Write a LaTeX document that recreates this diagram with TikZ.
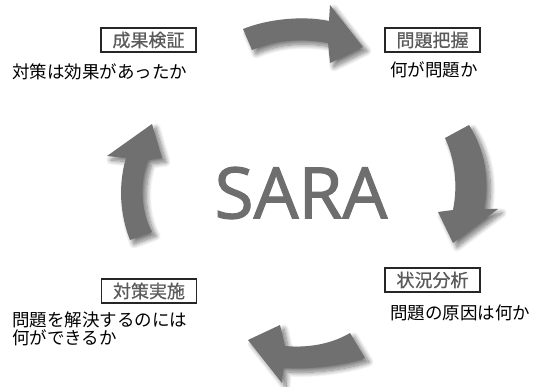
\documentclass[tikz,border=0pt]{standalone}
\usepackage{fontspec}
\setmainfont{Noto Sans CJK JP}
\newfontfamily\cjkfont{Noto Sans CJK JP}
\newfontfamily\cjkboxfont[FakeBold=0.6]{Noto Sans CJK JP}
\newfontfamily\saraf[FakeBold=1.6]{Open Sans}
\usetikzlibrary{shadows.blur}
\definecolor{arrowgray}{RGB}{112,112,112}
\definecolor{labgray}{RGB}{90,90,90}
\definecolor{saragray}{RGB}{110,110,110}
\tikzset{
  bigarrow/.style={fill=arrowgray, draw=none,
    blur shadow={shadow xshift=4pt, shadow yshift=-4pt, shadow blur radius=5pt, shadow blur steps=12, shadow opacity=55}},
  stagebox/.style={draw=black!85, line width=1.1pt, minimum width=95pt, minimum height=24pt, inner sep=0pt,
    text=labgray, font=\cjkboxfont\fontsize{18}{18}\selectfont},
  question/.style={anchor=west, inner sep=0pt, align=left, text=black,
    font=\cjkfont\fontsize{17.5}{18}\selectfont}
}
\begin{document}
\begin{tikzpicture}[x=1pt,y=-1pt]
\useasboundingbox (0,0) rectangle (539,387);
% top arrow
\path[bigarrow] (243,29) .. controls (265,20) and (300,15) .. (329,21)
  -- (330,5) -- (363,47) -- (330,63) -- (328,43)
  .. controls (300,38) and (275,40) .. (252,50) -- cycle;
% right arrow
\path[bigarrow] (445,138) -- (469,125) .. controls (485,150) and (490,180) .. (484,209)
  -- (498,209) -- (453,243) -- (438,212) -- (453,210)
  .. controls (458,185) and (455,160) .. (445,138) -- cycle;
% bottom arrow
\path[bigarrow] (365,358) -- (350,333) .. controls (330,345) and (305,348) .. (285,346)
  -- (280,325) -- (248,340) -- (282,383) -- (283,368)
  .. controls (310,370) and (345,365) .. (365,358) -- cycle;
% left arrow
\path[bigarrow] (130,240) .. controls (120,215) and (118,185) .. (126,158)
  -- (107,156) -- (152,124) -- (162,158) -- (148,160)
  .. controls (140,180) and (140,210) .. (152,232) -- cycle;
% centre
\node[text=saragray, font=\saraf\fontsize{71}{71}\selectfont, inner sep=0pt] (sara) at (301,193) {SARA};
% stages
\node[stagebox] (s1) at (148.5,40) {成果検証};
\node[question] (q1) at (12,72) {対策は効果があったか};
\node[stagebox] (s2) at (432.5,40) {問題把握};
\node[question] (q2) at (390,70) {何が問題か};
\node[stagebox] (s3) at (432.5,280) {状況分析};
\node[question] (q3) at (390,312.5) {問題の原因は何か};
\node[stagebox] (s4) at (149,291) {対策実施};
\node[question] (q4) at (12,329) {問題を解決するのには\\何ができるか};
\end{tikzpicture}
\end{document}
